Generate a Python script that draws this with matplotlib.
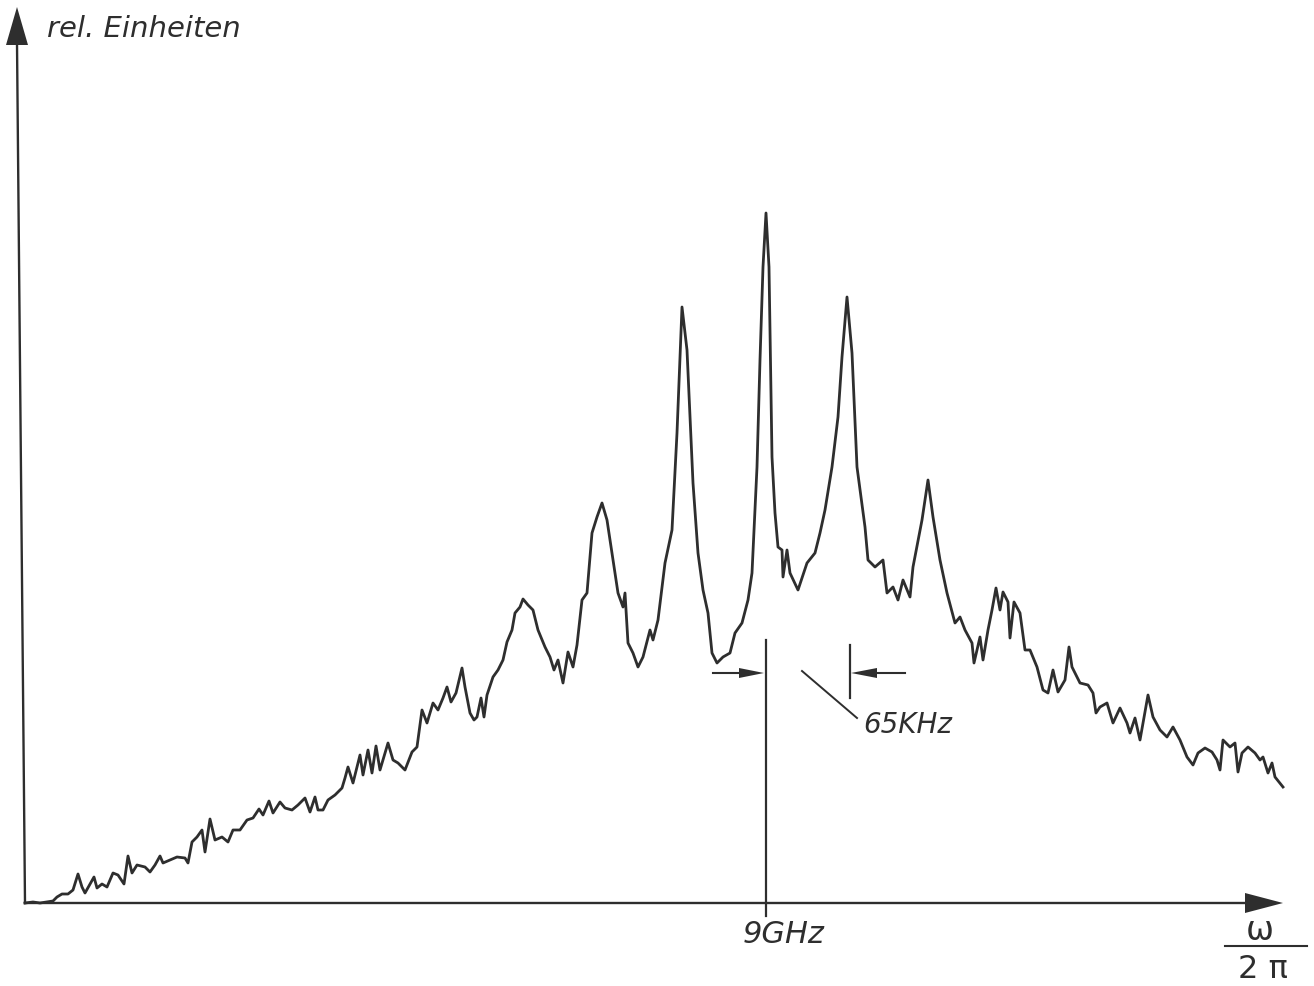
import numpy as np
import matplotlib.pyplot as plt

# spectrum trace
# freq: horizontal position from the origin, amp: height above the baseline (rel. units)
freq_wing_left = [0, 8, 15, 28, 32, 37, 43, 48, 53, 57, 60, 65, 69, 72, 77, 82, 88, 93, 99, 103,
                  107, 112, 120, 125, 130, 135, 138, 145, 152, 160, 163, 167, 172, 177, 180, 185,
                  190, 197, 203, 208, 215, 222, 228, 234, 238, 244, 248, 255, 260, 267, 273, 280,
                  285, 290, 293, 298, 303, 310, 317, 320, 323, 328, 335, 338, 343, 347, 351, 355,
                  358, 363, 368, 373, 380, 387, 392, 397, 402, 408, 413, 418, 422, 426, 431, 437,
                  440, 445, 449, 452, 456, 459, 462, 468, 473, 478, 482, 487, 490, 495, 498, 503,
                  508, 513, 520, 525, 529, 533, 538, 543, 548, 552, 557, 562]
amp_wing_left = [0, 1, 0, 2, 6, 9, 9, 13, 29, 16, 10, 19, 26, 15, 19, 16, 30, 28, 19, 47,
                 30, 38, 36, 31, 38, 47, 40, 43, 46, 45, 40, 61, 66, 73, 51, 84,
                 63, 66, 61, 73, 73, 83, 85, 94, 88, 102, 90, 101, 95, 93, 98, 105,
                 91, 106, 93, 93, 103, 108, 115, 125, 136, 120, 148, 128, 153, 130, 157, 133,
                 143, 160, 143, 140, 133, 151, 156, 193, 180, 200, 193, 205, 216, 201, 210, 235,
                 216, 190, 183, 186, 205, 186, 208, 226, 233, 243, 261, 273, 290, 296, 304, 298,
                 293, 273, 256, 246, 233, 243, 220, 251, 236, 258, 303, 310]

freq_peaks = [567, 572, 577, 582, 587, 593, 598, 600, 603, 608, 613, 618, 625, 628, 633, 640,
              647, 652, 657, 662, 668, 673, 678, 683, 687, 692, 698, 705, 710, 717, 723, 727,
              732, 735, 738, 741, 744, 747, 750, 753, 757, 758, 762, 765, 773, 782, 790, 795,
              800, 807, 813, 817, 822, 827, 832, 840, 843, 850, 858, 862, 868, 873, 878, 885,
              888, 897, 903, 908, 915]
amp_peaks = [370, 386, 400, 383, 350, 310, 296, 310, 260, 250, 236, 246, 273, 263, 283, 340,
             373, 470, 596, 553, 420, 350, 313, 290, 250, 240, 246, 250, 270, 280, 303, 330,
             436, 543, 636, 690, 636, 446, 390, 356, 353, 326, 353, 330, 313, 340, 350, 370,
             393, 436, 486, 546, 606, 550, 436, 376, 343, 336, 343, 310, 316, 303, 323, 306,
             336, 383, 423, 386, 343]

freq_wing_right = [922, 930, 935, 940, 947, 949, 955, 958, 963, 967, 971, 975, 978, 983, 985,
                   989, 995, 1000, 1005, 1012, 1018, 1023, 1028, 1033, 1040, 1044, 1047, 1055,
                   1063, 1068, 1071, 1075, 1082, 1088, 1095, 1102, 1105, 1110, 1115, 1118, 1123,
                   1128, 1135, 1142, 1148, 1155, 1162, 1168, 1173, 1180, 1187, 1192, 1195, 1198,
                   1205, 1210, 1213, 1217, 1223, 1230, 1235, 1238, 1243, 1247, 1250, 1258]
amp_wing_right = [310, 280, 286, 273, 260, 240, 266, 243, 273, 293, 315, 293, 311, 301, 265,
                  301, 290, 253, 253, 236, 213, 210, 233, 211, 223, 256, 236, 220,
                  218, 210, 190, 196, 200, 180, 195, 180, 170, 185, 163, 180, 208,
                  186, 173, 166, 176, 163, 146, 138, 150, 155, 151, 143, 133, 163,
                  156, 160, 131, 150, 156, 150, 143, 146, 130, 140, 126, 116]

# 9 GHz carrier and the 65 kHz sideband spacing marker
carrier = 741
sideband = 825
tick_labels = ["9GHz", "65KHz"]

freq = np.array(freq_wing_left + freq_peaks + freq_wing_right)
amp = np.array(amp_wing_left + amp_peaks + amp_wing_right)

ink = "#2e2e2e"

fig = plt.figure(figsize=(13.14, 9.86), dpi=100)
ax = fig.add_axes([0, 0, 1, 1])
ax.set_xlim(-25, 1289)
ax.set_ylim(-83, 903)
ax.axis("off")

# trace
ax.plot(freq, amp, color=ink, lw=2.0, solid_joinstyle="round")

# axes drawn by hand, with filled arrow heads
ax.plot([0, 1222], [0, 0], color=ink, lw=1.7)
ax.fill([1220, 1258, 1220], [-10, 0, 10], color=ink, lw=0)
ax.plot([0, -8], [0, 860], color=ink, lw=1.7)
ax.fill([-19, -8, 3], [858, 896, 858], color=ink, lw=0)

# carrier line + tick
ax.plot([carrier, carrier], [-13, 263], color=ink, lw=1.6)
ax.text(carrier - 23, -40, tick_labels[0], fontsize=22, style="italic",
        color=ink, ha="left", va="baseline")

# 65 kHz marker: two arrows pointing at the lines
ax.plot([688, 716], [230, 230], color=ink, lw=1.5)
ax.fill([714, carrier - 2, 714], [225, 230, 235], color=ink, lw=0)
ax.plot([sideband, sideband], [205, 258], color=ink, lw=1.6)
ax.plot([850, 880], [230, 230], color=ink, lw=1.5)
ax.fill([852, sideband + 1, 852], [225, 230, 235], color=ink, lw=0)
ax.plot([777, 832], [232, 185], color=ink, lw=1.4)
ax.text(838, 170, tick_labels[1], fontsize=20, style="italic",
        color=ink, ha="left", va="baseline")

# axis labels
ax.text(22, 866, "rel. Einheiten", fontsize=21, style="italic",
        color=ink, ha="left", va="baseline")
ax.text(1235, -37, "ω", fontsize=24, color=ink, ha="center", va="baseline")
ax.plot([1200, 1282], [-43, -43], color=ink, lw=1.5)
ax.text(1238, -75, "2 π", fontsize=23, color=ink, ha="center", va="baseline")

fig.savefig("out.png", dpi=100, facecolor="white")
